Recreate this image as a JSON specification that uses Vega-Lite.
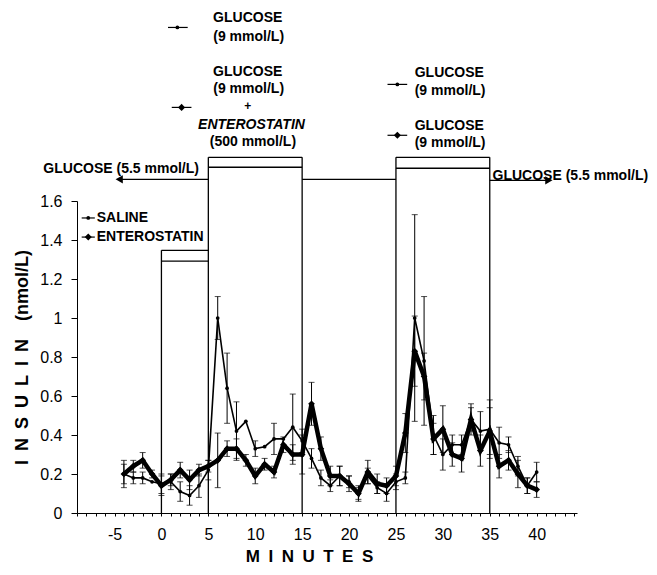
{
  "$schema": "https://vega.github.io/schema/vega-lite/v6.json",
  "width": 500,
  "height": 312,
  "autosize": {"type": "none"},
  "padding": {"left": 77, "top": 201, "right": 80, "bottom": 62},
  "background": "white",
  "config": {
    "view": {"stroke": null},
    "font": "Liberation Sans",
    "axis": {"labelFont": "Liberation Sans", "titleFont": "Liberation Sans", "labelColor": "black", "titleColor": "black", "domainColor": "black", "tickColor": "black", "grid": false}
  },
  "datasets": {
    "series": [
      {"group": "Saline", "t": -4, "y": 0.20, "se": 0.05},
      {"group": "Saline", "t": -3, "y": 0.18, "se": 0.03},
      {"group": "Saline", "t": -2, "y": 0.18, "se": 0.03},
      {"group": "Saline", "t": -1, "y": 0.16, "se": 0},
      {"group": "Saline", "t": 0, "y": 0.15, "se": 0.05},
      {"group": "Saline", "t": 1, "y": 0.16, "se": 0.04},
      {"group": "Saline", "t": 2, "y": 0.11, "se": 0.05},
      {"group": "Saline", "t": 3, "y": 0.09, "se": 0.05},
      {"group": "Saline", "t": 4, "y": 0.14, "se": 0.06},
      {"group": "Saline", "t": 5, "y": 0.22, "se": 0.05},
      {"group": "Saline", "t": 6, "y": 1.00, "se": 0.11},
      {"group": "Saline", "t": 7, "y": 0.64, "se": 0.18},
      {"group": "Saline", "t": 8, "y": 0.42, "se": 0.15},
      {"group": "Saline", "t": 9, "y": 0.47, "se": 0},
      {"group": "Saline", "t": 10, "y": 0.33, "se": 0.04},
      {"group": "Saline", "t": 11, "y": 0.34, "se": 0},
      {"group": "Saline", "t": 12, "y": 0.38, "se": 0.08},
      {"group": "Saline", "t": 13, "y": 0.38, "se": 0},
      {"group": "Saline", "t": 14, "y": 0.44, "se": 0.17},
      {"group": "Saline", "t": 15, "y": 0.37, "se": 0.06},
      {"group": "Saline", "t": 16, "y": 0.28, "se": 0.05},
      {"group": "Saline", "t": 17, "y": 0.18, "se": 0.04},
      {"group": "Saline", "t": 18, "y": 0.14, "se": 0.03},
      {"group": "Saline", "t": 19, "y": 0.19, "se": 0.05},
      {"group": "Saline", "t": 20, "y": 0.16, "se": 0.03},
      {"group": "Saline", "t": 21, "y": 0.10, "se": 0.03},
      {"group": "Saline", "t": 22, "y": 0.19, "se": 0.04},
      {"group": "Saline", "t": 23, "y": 0.13, "se": 0.03},
      {"group": "Saline", "t": 24, "y": 0.10, "se": 0.04},
      {"group": "Saline", "t": 25, "y": 0.16, "se": 0.04},
      {"group": "Saline", "t": 26, "y": 0.18, "se": 0.03},
      {"group": "Saline", "t": 27, "y": 1.00, "se": 0.53},
      {"group": "Saline", "t": 28, "y": 0.78, "se": 0.33},
      {"group": "Saline", "t": 29, "y": 0.40, "se": 0.10},
      {"group": "Saline", "t": 30, "y": 0.30, "se": 0.08},
      {"group": "Saline", "t": 31, "y": 0.35, "se": 0.05},
      {"group": "Saline", "t": 32, "y": 0.35, "se": 0.05},
      {"group": "Saline", "t": 33, "y": 0.48, "se": 0.08},
      {"group": "Saline", "t": 34, "y": 0.42, "se": 0.10},
      {"group": "Saline", "t": 35, "y": 0.43, "se": 0.15},
      {"group": "Saline", "t": 36, "y": 0.36, "se": 0.08},
      {"group": "Saline", "t": 37, "y": 0.35, "se": 0.04},
      {"group": "Saline", "t": 38, "y": 0.24, "se": 0.05},
      {"group": "Saline", "t": 39, "y": 0.14, "se": 0.04},
      {"group": "Saline", "t": 40, "y": 0.21, "se": 0.05},
      {"group": "Enterostatin", "t": -4, "y": 0.20, "se": 0.07},
      {"group": "Enterostatin", "t": -3, "y": 0.24, "se": 0.03},
      {"group": "Enterostatin", "t": -2, "y": 0.27, "se": 0.04},
      {"group": "Enterostatin", "t": -1, "y": 0.20, "se": 0.02},
      {"group": "Enterostatin", "t": 0, "y": 0.14, "se": 0.05},
      {"group": "Enterostatin", "t": 1, "y": 0.17, "se": 0.03},
      {"group": "Enterostatin", "t": 2, "y": 0.22, "se": 0.04},
      {"group": "Enterostatin", "t": 3, "y": 0.17, "se": 0.05},
      {"group": "Enterostatin", "t": 4, "y": 0.22, "se": 0.03},
      {"group": "Enterostatin", "t": 5, "y": 0.24, "se": 0.03},
      {"group": "Enterostatin", "t": 6, "y": 0.27, "se": 0.14},
      {"group": "Enterostatin", "t": 7, "y": 0.33, "se": 0.04},
      {"group": "Enterostatin", "t": 8, "y": 0.33, "se": 0.05},
      {"group": "Enterostatin", "t": 9, "y": 0.27, "se": 0.03},
      {"group": "Enterostatin", "t": 10, "y": 0.19, "se": 0.04},
      {"group": "Enterostatin", "t": 11, "y": 0.25, "se": 0.03},
      {"group": "Enterostatin", "t": 12, "y": 0.21, "se": 0.03},
      {"group": "Enterostatin", "t": 13, "y": 0.35, "se": 0.04},
      {"group": "Enterostatin", "t": 14, "y": 0.30, "se": 0.05},
      {"group": "Enterostatin", "t": 15, "y": 0.30, "se": 0.10},
      {"group": "Enterostatin", "t": 16, "y": 0.56, "se": 0.11},
      {"group": "Enterostatin", "t": 17, "y": 0.33, "se": 0.06},
      {"group": "Enterostatin", "t": 18, "y": 0.19, "se": 0.05},
      {"group": "Enterostatin", "t": 19, "y": 0.19, "se": 0.05},
      {"group": "Enterostatin", "t": 20, "y": 0.15, "se": 0.04},
      {"group": "Enterostatin", "t": 21, "y": 0.10, "se": 0.04},
      {"group": "Enterostatin", "t": 22, "y": 0.21, "se": 0.06},
      {"group": "Enterostatin", "t": 23, "y": 0.15, "se": 0.05},
      {"group": "Enterostatin", "t": 24, "y": 0.14, "se": 0.04},
      {"group": "Enterostatin", "t": 25, "y": 0.19, "se": 0.05},
      {"group": "Enterostatin", "t": 26, "y": 0.41, "se": 0.10},
      {"group": "Enterostatin", "t": 27, "y": 0.83, "se": 0.18},
      {"group": "Enterostatin", "t": 28, "y": 0.70, "se": 0.12},
      {"group": "Enterostatin", "t": 29, "y": 0.38, "se": 0.08},
      {"group": "Enterostatin", "t": 30, "y": 0.43, "se": 0.12},
      {"group": "Enterostatin", "t": 31, "y": 0.30, "se": 0.06},
      {"group": "Enterostatin", "t": 32, "y": 0.28, "se": 0.07},
      {"group": "Enterostatin", "t": 33, "y": 0.48, "se": 0.06},
      {"group": "Enterostatin", "t": 34, "y": 0.32, "se": 0.08},
      {"group": "Enterostatin", "t": 35, "y": 0.42, "se": 0.12},
      {"group": "Enterostatin", "t": 36, "y": 0.24, "se": 0.06},
      {"group": "Enterostatin", "t": 37, "y": 0.27, "se": 0.05},
      {"group": "Enterostatin", "t": 38, "y": 0.20, "se": 0.07},
      {"group": "Enterostatin", "t": 39, "y": 0.14, "se": 0.04},
      {"group": "Enterostatin", "t": 40, "y": 0.12, "se": 0.04}
    ],
    "frames": [
      {"t": 0, "t2": 0, "y": 0, "y2": 1.347},
      {"t": 5, "t2": 5, "y": 0, "y2": 1.824},
      {"t": 15, "t2": 15, "y": 0, "y2": 1.824},
      {"t": 25, "t2": 25, "y": 0, "y2": 1.824},
      {"t": 35, "t2": 35, "y": 0, "y2": 1.824},
      {"t": 0, "t2": 5, "y": 1.347, "y2": 1.347},
      {"t": 0, "t2": 5, "y": 1.292, "y2": 1.292},
      {"t": 5, "t2": 15, "y": 1.824, "y2": 1.824},
      {"t": 5, "t2": 15, "y": 1.773, "y2": 1.773},
      {"t": 25, "t2": 35, "y": 1.824, "y2": 1.824},
      {"t": 25, "t2": 35, "y": 1.768, "y2": 1.768},
      {"t": 15, "t2": 25, "y": 1.711, "y2": 1.711},
      {"t": -4.4, "t2": 5, "y": 1.711, "y2": 1.711},
      {"t": 35, "t2": 41.2, "y": 1.706, "y2": 1.706}
    ],
    "arrows": [
      {"t": -4.5, "y": 1.711, "shape": "triangle-left"},
      {"t": 41.3, "y": 1.706, "shape": "triangle-right"}
    ],
    "syms": [
      {"t": -7.8, "t1": -8.5, "t2": -7.1, "y": 1.513, "kind": "Saline"},
      {"t": -7.8, "t1": -8.5, "t2": -7.1, "y": 1.415, "kind": "Enterostatin"},
      {"t": 1.7, "t1": 0.7, "t2": 2.8, "y": 2.49, "kind": "Saline"},
      {"t": 2.15, "t1": 1.1, "t2": 3.2, "y": 2.08, "kind": "Enterostatin"},
      {"t": 25.15, "t1": 24.1, "t2": 26.2, "y": 2.198, "kind": "Saline"},
      {"t": 25.15, "t1": 24.1, "t2": 26.2, "y": 1.937, "kind": "Enterostatin"}
    ],
    "labels": [
      {"text": "GLUCOSE", "t": 9.2, "y": 2.537, "pos": "center"},
      {"text": "(9 mmol/L)", "t": 9.3, "y": 2.44, "pos": "center"},
      {"text": "GLUCOSE", "t": 9.2, "y": 2.26, "pos": "center"},
      {"text": "(9 mmol/L)", "t": 9.3, "y": 2.175, "pos": "center"},
      {"text": "+", "t": 9.2, "y": 2.085, "pos": "plus"},
      {"text": "ENTEROSTATIN", "t": 9.6, "y": 1.988, "pos": "italic"},
      {"text": "(500 mmol/L)", "t": 9.75, "y": 1.901, "pos": "center"},
      {"text": "GLUCOSE", "t": 27, "y": 2.255, "pos": "left"},
      {"text": "(9 mmol/L)", "t": 27, "y": 2.163, "pos": "left"},
      {"text": "GLUCOSE", "t": 27, "y": 1.983, "pos": "left"},
      {"text": "(9 mmol/L)", "t": 27, "y": 1.896, "pos": "left"},
      {"text": "GLUCOSE (5.5 mmol/L)", "t": 4.0, "y": 1.763, "pos": "right"},
      {"text": "GLUCOSE (5.5 mmol/L)", "t": 35.3, "y": 1.727, "pos": "left"},
      {"text": "SALINE", "t": -6.9, "y": 1.513, "pos": "left"},
      {"text": "ENTEROSTATIN", "t": -6.9, "y": 1.415, "pos": "left"}
    ]
  },
  "encoding": {
    "x": {
      "field": "t", "type": "quantitative", "title": "M\u2002I\u2002N\u2002U\u2002T\u2002E\u2002S",
      "scale": {"domain": [-9, 44.3], "nice": false, "zero": false},
      "axis": {
        "values": [-9,-8,-7,-6,-5,-4,-3,-2,-1,0,1,2,3,4,5,6,7,8,9,10,11,12,13,14,15,16,17,18,19,20,21,22,23,24,25,26,27,28,29,30,31,32,33,34,35,36,37,38,39,40,41,42,43,44],
        "labelExpr": "(datum.value % 5 === 0 && datum.value >= -5 && datum.value <= 40) ? ('' + datum.value) : ''",
        "tickSize": 3, "labelFontSize": 16, "labelPadding": 10, "titleFontSize": 17, "titleFontWeight": "bold", "titlePadding": 6, "titleX": 232, "labelFlush": false, "labelOverlap": false
      }
    },
    "y": {
      "field": "y", "type": "quantitative", "title": "I\u2002N\u2002S\u2002U\u2002L\u2002I\u2002N\u2002\u2002(nmol/L)",
      "scale": {"domain": [0, 1.6], "nice": false},
      "axis": {
        "values": [0, 0.2, 0.4, 0.6, 0.8, 1, 1.2, 1.4, 1.6],
        "format": ".1~f", "tickSize": 6, "labelFontSize": 16, "labelPadding": 9, "titleFontSize": 18, "titleFontWeight": "bold", "titlePadding": 8
      }
    }
  },
  "layer": [
    {
      "data": {"name": "frames"},
      "mark": {"type": "rule", "color": "black", "strokeWidth": 1.3},
      "encoding": {"x2": {"field": "t2"}, "y2": {"field": "y2"}}
    },
    {
      "data": {"name": "arrows"},
      "mark": {"type": "point", "filled": true, "color": "black", "size": 70, "opacity": 1},
      "encoding": {"shape": {"field": "shape", "type": "nominal", "scale": null}}
    },
    {
      "data": {"name": "series"},
      "transform": [{"filter": "datum.se > 0"}],
      "mark": {"type": "errorbar", "color": "black", "ticks": {"size": 6, "color": "black"}, "rule": {"strokeWidth": 1}},
      "encoding": {
        "y": {"field": "y", "type": "quantitative", "title": "I\u2002N\u2002S\u2002U\u2002L\u2002I\u2002N\u2002\u2002(nmol/L)"},
        "yError": {"field": "se"},
        "detail": {"field": "group"}
      }
    },
    {
      "data": {"name": "series"},
      "transform": [{"filter": "datum.group === 'Saline'"}],
      "mark": {"type": "line", "color": "black", "strokeWidth": 1.6, "point": {"filled": true, "color": "black", "size": 14}}
    },
    {
      "data": {"name": "series"},
      "transform": [{"filter": "datum.group === 'Enterostatin'"}],
      "mark": {"type": "line", "color": "black", "strokeWidth": 4.5, "point": {"filled": true, "color": "black", "size": 45, "shape": "diamond"}}
    },
    {
      "data": {"name": "syms"},
      "mark": {"type": "rule", "color": "black", "strokeWidth": 1.2},
      "encoding": {"x": {"field": "t1", "type": "quantitative", "title": "M\u2002I\u2002N\u2002U\u2002T\u2002E\u2002S"}, "x2": {"field": "t2"}}
    },
    {
      "data": {"name": "syms"},
      "mark": {"type": "point", "filled": true, "color": "black", "opacity": 1},
      "encoding": {
        "shape": {"field": "kind", "type": "nominal", "scale": {"domain": ["Saline", "Enterostatin"], "range": ["circle", "diamond"]}, "legend": null},
        "size": {"field": "kind", "type": "nominal", "scale": {"domain": ["Saline", "Enterostatin"], "range": [14, 50]}, "legend": null}
      }
    },
    {
      "data": {"name": "labels"},
      "transform": [{"filter": "datum.pos === 'center'"}],
      "mark": {"type": "text", "font": "Liberation Sans", "fontWeight": "bold", "fontSize": 14, "color": "black", "baseline": "middle", "align": "center"},
      "encoding": {"text": {"field": "text"}}
    },
    {
      "data": {"name": "labels"},
      "transform": [{"filter": "datum.pos === 'plus'"}],
      "mark": {"type": "text", "font": "Liberation Sans", "fontWeight": "bold", "fontSize": 12, "color": "black", "baseline": "middle", "align": "center"},
      "encoding": {"text": {"field": "text"}}
    },
    {
      "data": {"name": "labels"},
      "transform": [{"filter": "datum.pos === 'italic'"}],
      "mark": {"type": "text", "font": "Liberation Sans", "fontWeight": "bold", "fontStyle": "italic", "fontSize": 14, "color": "black", "baseline": "middle", "align": "center"},
      "encoding": {"text": {"field": "text"}}
    },
    {
      "data": {"name": "labels"},
      "transform": [{"filter": "datum.pos === 'left'"}],
      "mark": {"type": "text", "font": "Liberation Sans", "fontWeight": "bold", "fontSize": 14, "color": "black", "baseline": "middle", "align": "left"},
      "encoding": {"text": {"field": "text"}}
    },
    {
      "data": {"name": "labels"},
      "transform": [{"filter": "datum.pos === 'right'"}],
      "mark": {"type": "text", "font": "Liberation Sans", "fontWeight": "bold", "fontSize": 14, "color": "black", "baseline": "middle", "align": "right"},
      "encoding": {"text": {"field": "text"}}
    }
  ]
}
